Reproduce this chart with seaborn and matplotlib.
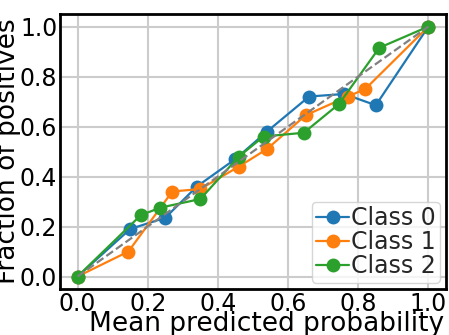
import numpy as np
import seaborn as sns
import matplotlib
matplotlib.use("Agg")
import matplotlib.pyplot as plt

class_names = ["Class 0", "Class 1", "Class 2"]

# mean predicted probability / fraction of positives per bin
class0_pred = [0.0, 0.15, 0.25, 0.34, 0.45, 0.54, 0.66, 0.76, 0.85, 1.0]
class0_frac = [0.0, 0.19, 0.235, 0.36, 0.47, 0.58, 0.72, 0.73, 0.685, 1.0]
class1_pred = [0.0, 0.145, 0.27, 0.35, 0.46, 0.54, 0.65, 0.77, 0.82, 1.0]
class1_frac = [0.0, 0.10, 0.34, 0.35, 0.44, 0.51, 0.645, 0.72, 0.75, 1.0]
class2_pred = [0.0, 0.18, 0.235, 0.35, 0.46, 0.53, 0.645, 0.745, 0.86, 1.0]
class2_frac = [0.0, 0.245, 0.275, 0.31, 0.48, 0.56, 0.575, 0.69, 0.915, 1.0]

ticks = [0.0, 0.2, 0.4, 0.6, 0.8, 1.0]

sns.set_theme(style="whitegrid")
plt.rcParams['font.family'] = ['DejaVu Sans']

fig = plt.figure(figsize=(4.49, 3.35), dpi=100)
ax = fig.add_axes([60 / 449, 46 / 335, 386 / 449, 275 / 335])

colors = sns.color_palette("tab10", 3)
series = [(class0_pred, class0_frac), (class1_pred, class1_frac), (class2_pred, class2_frac)]
for (xs, ys), name, c in zip(series, class_names, colors):
    sns.lineplot(x=xs, y=ys, sort=False, marker="o", markersize=10, markeredgewidth=0,
                 linewidth=1.6, color=c, label=name, ax=ax)

# perfectly calibrated reference
ax.plot([0, 1], [0, 1], linestyle="--", color="gray", linewidth=1.6, zorder=5)

ax.set_xlim(-0.05, 1.05)
ax.set_ylim(-0.05, 1.05)
ax.set_xticks(ticks)
ax.set_yticks(ticks)
ax.tick_params(axis="both", length=0, pad=2, labelsize=17, colors="black")
ax.grid(True, color="#cccccc", linewidth=1.5)

for sp in ax.spines.values():
    sp.set_color("black")
    sp.set_linewidth(2)

ax.set_xlabel("Mean predicted probability", fontsize=19, color="black")
ax.set_ylabel("Fraction of positives", fontsize=19, color="black")
ax.xaxis.set_label_coords(0.535, -0.08)
ax.yaxis.set_label_coords(-0.10, 0.5)

ax.legend(loc="lower right", fontsize=17, handlelength=1.4, handletextpad=0.05,
          labelspacing=0.0, borderpad=0.2, borderaxespad=0.25, framealpha=0.8)

fig.savefig("out.png", dpi=100)
